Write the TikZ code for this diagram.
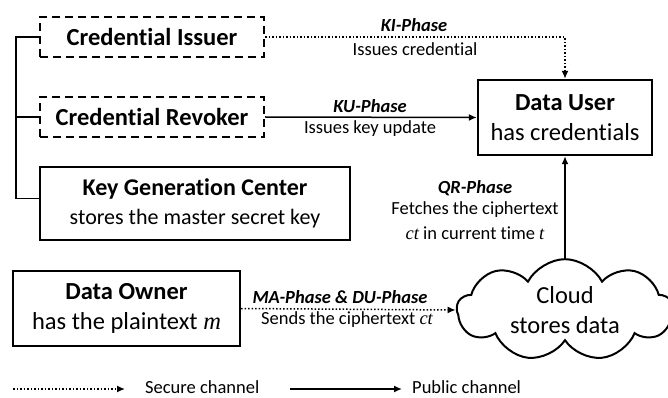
\documentclass[tikz,border=0pt]{standalone}
\usepackage{fontspec}
\setmainfont{Carlito}[Ligatures=NoCommon]
\newfontfamily\varfont{Liberation Serif}
\newcommand{\vv}[1]{{\varfont\itshape #1}}
\usetikzlibrary{arrows.meta,shapes.symbols,calc}
\begin{document}
\begin{tikzpicture}[x=1pt,y=-1pt,
  box/.style={draw,line width=2.4pt,rectangle,inner sep=0pt,align=center,
    font=\fontsize{24.5}{30}\selectfont},
  dbox/.style={box,dash pattern=on 8pt off 5pt},
  lbl/.style={font=\fontsize{18.5}{20}\selectfont\bfseries\itshape,inner sep=0pt},
  txt/.style={font=\fontsize{18.5}{20}\selectfont,inner sep=0pt},
  public/.style={line width=1.5pt,-{Latex[length=8pt,width=7pt]}},
  secure/.style={line width=1.5pt,dotted,-{Latex[length=8pt,width=7pt]}},
  bracket/.style={line width=1.8pt}
]
\useasboundingbox (0,0) rectangle (668,398);
% boxes
\node[dbox,minimum width=224pt,minimum height=40pt] (issuer) at (152,37)
  {\bfseries Credential Issuer};
\node[dbox,minimum width=224pt,minimum height=40pt] (revoker) at (152,117)
  {\bfseries Credential Revoker};
\node[box,minimum width=310pt,minimum height=73pt,font=\fontsize{24}{29}\selectfont] (kgc) at (195,203.5)
  {\textbf{Key Generation Center}\\{\fontsize{22}{29}\selectfont stores the master secret key}};
\node[box,minimum width=227pt,minimum height=75pt] (owner) at (126.5,308.5)
  {\textbf{Data Owner}\\has the plaintext \vv{m}};
\node[box,minimum width=174pt,minimum height=75pt] (du) at (565,117.5)
  {\textbf{Data User}\\has credentials};
\node[cloud,draw,line width=2pt,cloud puffs=9,cloud puff arc=125,aspect=2.1,
  minimum width=216pt,minimum height=100pt,align=center,inner sep=0pt,
  font=\fontsize{24.5}{30}\selectfont] (cloud) at (565,310)
  {Cloud\\stores data};
% bracket
\coordinate (b1) at (16,37);
\draw[bracket] (issuer.west) -- (b1) |- ([yshift=5pt]kgc.west);
\draw[bracket] (revoker.west) -- (revoker.west -| b1);
% connectors
\draw[secure] (issuer.east) -- (issuer.east -| du.north) -- (du.north);
\draw[public] (revoker.east) -- (du.west);
\draw[public] (cloud.north) -- (du.south);
\draw[secure] (owner.east) -- (cloud.west);
% labels
\node[lbl] (kil) at (414,25) {KI-Phase};
\node[txt] (kit) at (415,49) {Issues credential};
\node[lbl] (kul) at (370,106) {KU-Phase};
\node[txt] (kut) at (370,129) {Issues key update};
\node[lbl] (qrl) at (475,188) {QR-Phase};
\node[txt] (qrt1) at (475,210) {Fetches the ciphertext};
\node[txt] (qrt2) at (475,233) {\vv{ct} in current time \vv{t}};
\node[lbl] (mal) at (340,297) {MA-Phase \& DU-Phase};
\node[txt] (mat) at (347,320) {Sends the ciphertext \vv{ct}};
% legend
\coordinate (s1) at (13,389);
\coordinate (s2) at (125,389);
\coordinate (p1) at (290,389);
\coordinate (p2) at (402,389);
\draw[secure] (s1) -- (s2);
\draw[public] (p1) -- (p2);
\node[txt,anchor=west] (sl) at (145,387) {Secure channel};
\node[txt,anchor=west] (pl) at (412,387) {Public channel};
\end{tikzpicture}
\end{document}
